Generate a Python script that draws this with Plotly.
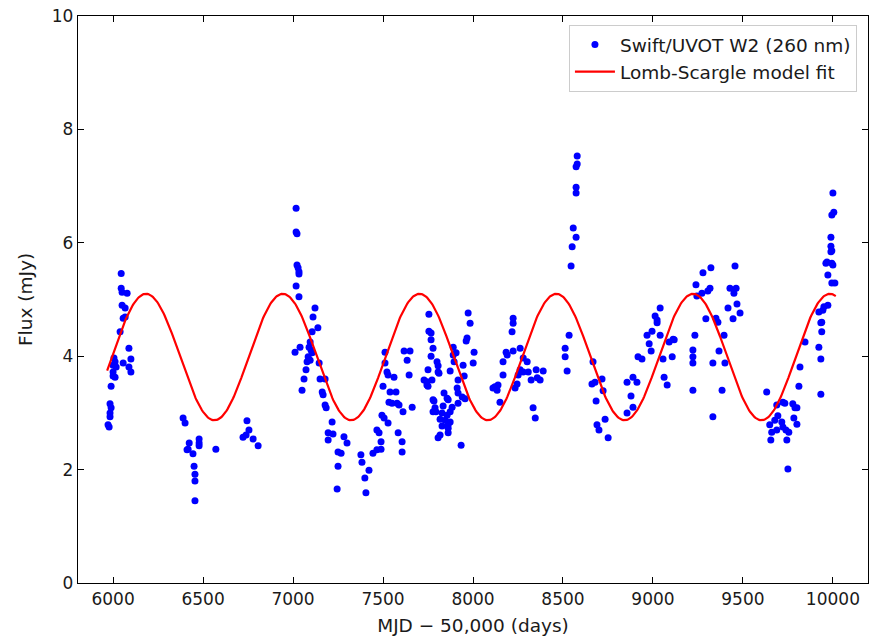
import numpy as np
import plotly.graph_objects as go

mjd = [
    5972, 5978, 5983, 5989, 5983, 5983, 5989,
    6005, 6011, 6000, 6017, 6000, 6000, 6011,
    6056, 6099, 6088, 6099, 6039, 6088,
    6056, 6067, 6050, 6067, 6045, 6050, 6078, 6045,
    6389, 6400, 6423, 6417, 6411, 6444, 6478, 6478, 6478, 6450, 6455, 6455, 6455, 6571,
    6744, 6755, 6722, 6739, 6778, 6806,
    7017, 7017, 7022, 7022, 7028, 7033, 7033, 7017, 7033,
    7122, 7111, 7138, 7106, 7095, 7089, 7100, 7106, 7039, 7011,
    7084, 7078, 7095, 7145, 7072, 7061, 7050, 7150, 7178,
    7162, 7167, 7178, 7184, 7217, 7195, 7222, 7195, 7283, 7300,
    7250, 7267, 7250, 7245,
    7377, 7383, 7399, 7405, 7422, 7444, 7466, 7489, 7466, 7478, 7489,
    7494, 7506, 7528, 7584, 7606, 7606,
    7511, 7511, 7522, 7528, 7561, 7500, 7539, 7572,
    7533, 7550, 7578, 7589, 7611, 7662, 7617, 7650, 7634, 7645,
    7755, 7755, 7767, 7767, 7778, 7767, 7800, 7806, 7806, 7811, 7750,
    7728, 7744, 7772, 7873, 7890, 7906, 7890, 7895,
    7973, 7984, 7967, 7962, 8006, 8001, 7945,
    7951, 7917, 7912, 7917, 7940, 7956, 7917,
    7839, 7856, 7862, 7778, 7789, 7834, 7884, 7873, 7856, 7828, 7817, 7845, 7862,
    7873, 7828, 7862, 7817, 7806, 7862, 7934, 7744, 7750, 7783, 7778, 7794,
    8111, 8122, 8134, 8139, 8150, 8167, 8167, 8184, 8190, 8223,
    8223, 8223, 8217, 8262, 8279, 8301,
    8234, 8245, 8251, 8262, 8279, 8307, 8323, 8351, 8357, 8373, 8390, 8334, 8346,
    8534, 8512, 8512, 8523,
    8579, 8579, 8573, 8573, 8573, 8557, 8573, 8551, 8545,
    8667, 8661, 8678, 8717, 8723, 8684, 8689, 8700, 8734, 8751,
    8856, 8878, 8889, 8856, 8889, 8911, 8917, 8939,
    8967, 8995, 8979, 8990, 9012, 9023, 9023, 9040,
    9040, 9056, 9062, 9079, 9090, 9112, 9118, 9107,
    9222, 9222, 9222, 9222, 9233,
    9239, 9244, 9278, 9272, 9305, 9317, 9322,
    9294, 9350, 9361, 9395, 9367, 9333, 9400, 9384, 9333,
    9456, 9428, 9462, 9450, 9417, 9445, 9467, 9484,
    9632, 9688, 9722, 9733, 9694, 9677, 9649, 9660, 9688, 9716, 9722, 9739, 9755, 9744, 9655, 9750,
    9777, 9789, 9800, 9783, 9800, 9811, 9817, 9845,
    9922, 9933, 9933, 9938, 9933, 9938, 9922, 9944, 9950, 9972,
    9972, 9994, 10011, 9994, 10000, 9961, 9989,
    10000, 10005, 9994, 9989, 9989, 9994, 9967,
]
flux = [
    2.79, 2.75, 3.16, 3.09, 3.00, 2.93, 3.47,
    3.97, 3.90, 3.84, 3.81, 3.72, 3.65, 3.63,
    3.88, 3.95, 3.81, 3.72, 4.43, 4.14,
    4.67, 4.69, 4.90, 4.85, 5.20, 5.13, 5.11, 5.46,
    2.91, 2.82, 2.47, 2.36, 2.35, 2.28, 2.54, 2.47, 2.42, 2.06, 1.92, 1.80, 1.45, 2.36,
    2.86, 2.70, 2.57, 2.61, 2.54, 2.42,
    6.61, 6.19, 6.16, 5.61, 5.56, 5.49, 5.45, 5.24, 5.05,
    4.85, 4.69, 4.50, 4.43, 4.25, 4.16, 4.11, 4.06, 4.16, 4.07,
    3.99, 3.90, 3.93, 3.88, 3.76, 3.60, 3.40, 3.60, 3.60,
    3.37, 3.32, 3.14, 3.09, 2.84, 2.65, 2.63, 2.52, 2.58, 2.47,
    2.31, 2.29, 2.06, 1.66,
    2.26, 2.13, 1.85, 1.59, 1.99, 2.29, 2.35, 2.36, 2.70, 2.65, 2.49,
    2.96, 2.91, 2.82, 2.65, 2.49, 2.31,
    4.07, 3.88, 3.72, 3.67, 3.63, 3.47, 3.37, 3.37,
    3.19, 3.17, 3.17, 3.14, 3.02, 3.10, 4.09, 4.09, 3.93, 3.67,
    4.74, 4.44, 4.41, 4.29, 4.14, 4.00, 3.90, 3.83, 3.72, 3.70, 3.76,
    3.58, 3.49, 3.58, 3.74, 4.16, 4.06, 4.02, 3.90,
    4.76, 4.58, 4.32, 4.27, 4.07, 3.88, 3.84,
    3.65, 3.58, 3.44, 3.35, 3.28, 3.25, 3.17,
    3.35, 3.26, 3.23, 3.23, 3.09, 3.12, 3.10, 3.02, 2.96, 3.00, 2.89, 2.87, 2.79,
    2.84, 2.77, 2.73, 2.61, 2.56, 2.65, 2.43, 3.55, 3.47, 3.21, 3.02, 3.02,
    3.44, 3.46, 3.40, 3.49, 3.19, 3.67, 3.90, 4.07, 4.02, 4.09,
    4.67, 4.58, 4.43, 4.14, 3.97, 3.90,
    3.44, 3.51, 3.67, 3.76, 3.72, 3.72, 3.58, 3.76, 3.62, 3.58, 3.74, 3.09, 2.91,
    4.37, 4.14, 3.99, 3.74,
    7.53, 7.39, 7.34, 6.98, 6.88, 6.26, 6.10, 5.93, 5.59,
    3.90, 3.51, 3.54, 3.60, 3.39, 3.21, 2.79, 2.70, 2.89, 2.56,
    3.54, 3.30, 3.10, 3.00, 3.63, 3.54, 3.99, 3.95,
    4.37, 4.44, 4.22, 4.09, 4.71, 4.64, 4.59, 4.85,
    4.37, 3.95, 3.63, 3.49, 4.25, 4.30, 4.29, 3.99,
    4.11, 3.99, 3.88, 3.40, 4.37,
    5.26, 5.06, 5.47, 5.11, 5.15, 5.20, 5.56,
    4.66, 4.67, 4.60, 4.37, 4.09, 3.88, 3.88, 3.40, 2.93,
    5.59, 5.20, 5.20, 5.11, 4.85, 4.66, 4.92, 4.76,
    3.37, 3.14, 3.19, 3.17, 2.95, 2.87, 2.79, 2.66, 2.70, 2.84, 2.75, 2.70, 2.66, 2.52, 2.52, 2.01,
    3.16, 3.09, 3.09, 2.91, 2.80, 3.47, 3.81, 4.25,
    4.16, 3.95, 3.33, 4.43, 4.59, 4.60, 4.78, 4.81, 4.87, 4.90,
    5.43, 5.29, 5.29, 5.64, 5.61, 5.64, 5.84,
    6.88, 6.54, 6.49, 6.10, 5.94, 5.86, 5.66,
]

# Lomb-Scargle best-fit sinusoid parameters
LS_PERIOD = 760.0      # days
LS_MEAN = 3.985        # mJy
LS_AMPLITUDE = 1.115   # mJy
LS_T_PEAK = 6183.0     # epoch of maximum (MJD - 50000)
LS_T_START, LS_T_END = 5967.0, 10016.0

x_ticks = [6000, 6500, 7000, 7500, 8000, 8500, 9000, 9500, 10000]
y_ticks = [0, 2, 4, 6, 8, 10]

t_model = np.linspace(LS_T_START, LS_T_END, 800)
f_model = LS_MEAN + LS_AMPLITUDE * np.cos(2 * np.pi * (t_model - LS_T_PEAK) / LS_PERIOD)

FONT = "DejaVu Sans"
TXT = "#1a1a1a"

fig = go.Figure()
fig.add_trace(go.Scatter(
    x=mjd, y=flux, mode="markers",
    marker=dict(color="#0000ff", size=7, line=dict(width=0)),
    name="Swift/UVOT W2 (260 nm)",
))
fig.add_trace(go.Scatter(
    x=t_model, y=f_model, mode="lines",
    line=dict(color="#ff0000", width=2.2),
    name="Lomb-Scargle model fit",
))

axis_common = dict(
    showline=True, linecolor="black", linewidth=1.3, mirror="ticks",
    ticks="inside", ticklen=6, tickwidth=1.3, tickcolor="black",
    showgrid=False, zeroline=False,
    tickfont=dict(family=FONT, size=17, color=TXT),
)

fig.update_layout(
    width=871, height=639,
    margin=dict(l=78, r=3, t=16, b=56),
    paper_bgcolor="white", plot_bgcolor="white",
    font=dict(family=FONT, size=17, color=TXT),
    showlegend=True,
    legend=dict(
        x=0.986, y=0.984, xanchor="right", yanchor="top",
        bgcolor="rgba(255,255,255,0.9)", bordercolor="#cccccc", borderwidth=1,
        font=dict(family=FONT, size=18.5, color=TXT),
        itemwidth=40, tracegroupgap=0,
    ),
)
fig.update_xaxes(
    range=[5805, 10195], tickvals=x_ticks, ticktext=[str(v) for v in x_ticks],
    title=dict(text="MJD \u2212 50,000 (days)", font=dict(family=FONT, size=18.5, color=TXT), standoff=11),
    **axis_common,
)
fig.update_yaxes(
    range=[0, 10], tickvals=y_ticks, ticktext=[str(v) for v in y_ticks],
    title=dict(text="Flux (mJy)", font=dict(family=FONT, size=18.5, color=TXT), standoff=14),
    **axis_common,
)

fig.write_html("out.html")
